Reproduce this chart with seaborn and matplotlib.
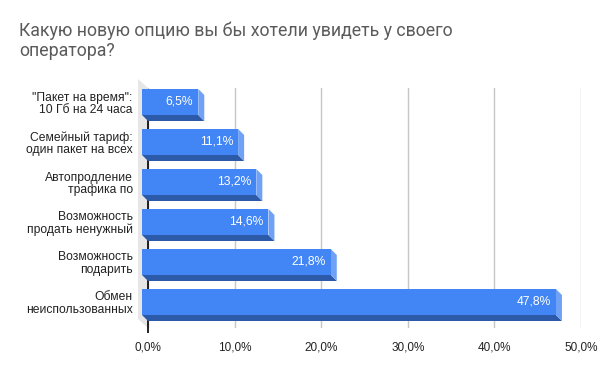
import matplotlib
matplotlib.use("Agg")
import matplotlib.pyplot as plt
import matplotlib.transforms as mtrans
from matplotlib.patches import Polygon
import seaborn as sns

# данные опроса
options = ['"Пакет на время":\n10 Гб на 24 часа',
           'Семейный тариф:\nодин пакет на всех',
           'Автопродление\nтрафика по',
           'Возможность\nпродать ненужный',
           'Возможность\nподарить',
           'Обмен\nнеиспользованных']
shares = [6.5, 11.1, 13.2, 14.6, 21.8, 47.8]
xticks = [0, 10, 20, 30, 40, 50]

FRONT = '#4285f4'
SIDE = '#6fa2f7'
BOTTOM = '#2d59a9'
DEPTH = 6       # px, глубина столбцов
WALL = (10, 9)  # px, глубина левой стенки

sns.set_style("white")
plt.rcParams['font.family'] = ['Liberation Sans', 'DejaVu Sans']

fig = plt.figure(figsize=(6, 3.71), dpi=100)
ax = fig.add_axes([148/600, 43/371, 433/600, 240/371])

sns.barplot(x=shares, y=options, orient='h', color=FRONT, saturation=1,
            width=0.65, linewidth=0, ax=ax, zorder=3)
ax.set_xlim(0, 50)
ax.set_ylim(5.5, -0.5)

# пересчёт пикселей в единицы данных
def px2data(px, py):
    inv = ax.transData.inverted()
    o = ax.transData.transform((0, 0))
    a = inv.transform(o)
    b = inv.transform(o + [px, py])
    return abs(b[0] - a[0]), abs(b[1] - a[1])

dx, dy = px2data(DEPTH, DEPTH)
wx, wy = px2data(*WALL)

# левая стенка
wall = Polygon([(-wx, -0.5 - wy), (0, -0.5), (0, 5.5), (-wx, 5.5 - wy)],
               closed=True, facecolor='#e6e6e6', edgecolor='none',
               clip_on=False, zorder=1)
ax.add_patch(wall)

ax.set_xticks(xticks)
ax.set_xticklabels([f"{t:.1f}%".replace('.', ',') for t in xticks])
ax.xaxis.grid(True, color='#c6c6c6', linewidth=1, zorder=0)
ax.set_axisbelow(True)
ax.vlines(0, -0.5 + (1 - 0.65) / 2, 5.62, color='black', linewidth=1.2,
          zorder=2, clip_on=False)
for s in ax.spines.values():
    s.set_visible(False)
ax.tick_params(axis='x', length=0, pad=10, labelsize=8.5, labelcolor='#222222')
ax.tick_params(axis='y', length=0, pad=11, labelsize=8.7, labelcolor='#222222')
ax.set_xlabel('')
ax.set_ylabel('')

shift = mtrans.ScaledTranslation(0, DEPTH / 100, fig.dpi_scale_trans)
for lab in ax.get_yticklabels():
    lab.set_transform(lab.get_transform() + shift)
    lab.set_linespacing(1.05)

for p, v in zip(ax.patches, shares):
    x0, y0 = p.get_x(), p.get_y()
    w, h = p.get_width(), p.get_height()
    yt, yb = y0, y0 + h
    # нижняя грань
    ax.add_patch(Polygon([(-dx, yb - dy), (w - dx, yb - dy), (w, yb), (0, yb)],
                         closed=True, facecolor=BOTTOM, edgecolor='none',
                         clip_on=False, zorder=2.5))
    # правая грань
    ax.add_patch(Polygon([(w - dx, yt - dy), (w, yt), (w, yb), (w - dx, yb - dy)],
                         closed=True, facecolor=SIDE, edgecolor='none',
                         clip_on=False, zorder=2.5))
    # передняя грань
    p.set_x(x0 - dx)
    p.set_y(y0 - dy)
    p.set_clip_on(False)
    ax.annotate(f"{v:.1f}%".replace('.', ','), xy=(w - dx, y0 - dy + h / 2),
                xytext=(-5, 0), textcoords='offset pixels', ha='right', va='center',
                color='white', fontsize=8.7, zorder=5)

fig.text(19/600, 1 - 22/371, "Какую новую опцию вы бы хотели увидеть у своего\nоператора?",
         ha='left', va='top', fontsize=12.8, color='#5b5b5b', linespacing=1.12,
         family=['Roboto', 'Liberation Sans'])

fig.savefig("out.png", dpi=100)
